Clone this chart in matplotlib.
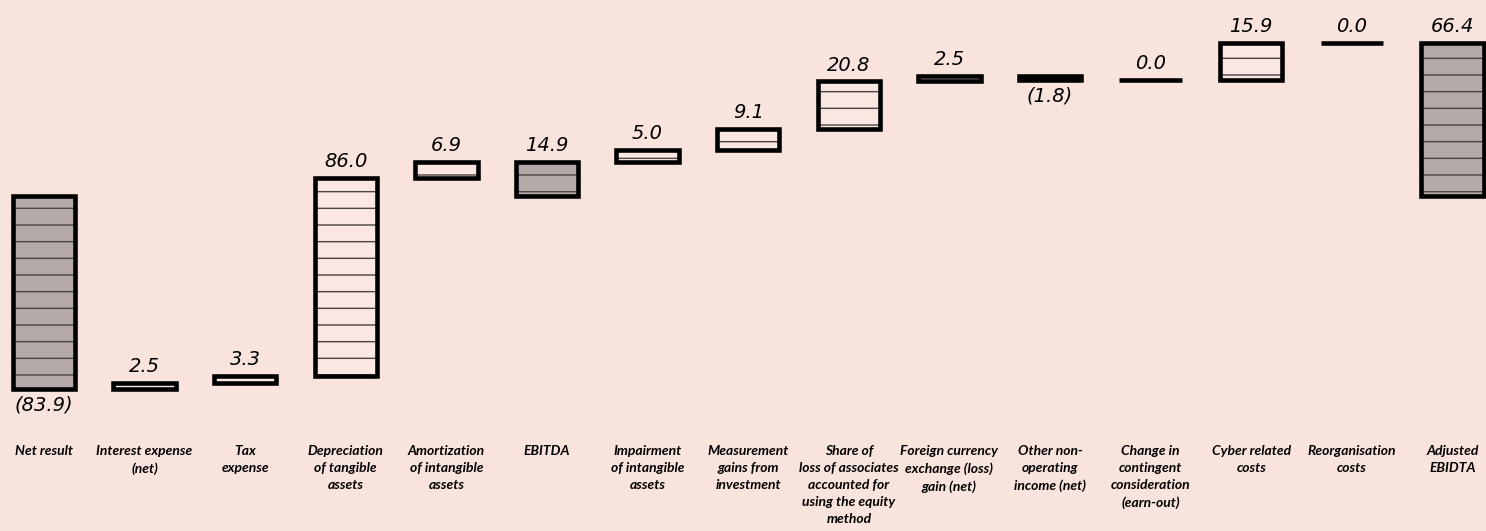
import matplotlib
matplotlib.use("Agg")
import matplotlib.pyplot as plt
import matplotlib.transforms as mtransforms

# bridge from net result to adjusted EBITDA (EUR m)
categories = [
    "Net result", "Interest expense\n(net)", "Tax\nexpense",
    "Depreciation\nof tangible\nassets", "Amortization\nof intangible\nassets",
    "EBITDA", "Impairment\nof intangible\nassets", "Measurement\ngains from\ninvestment",
    "Share of\nloss of associates\naccounted for\nusing the equity\nmethod",
    "Foreign currency\nexchange (loss)\ngain (net)", "Other non-\noperating\nincome (net)",
    "Change in\ncontingent\nconsideration\n(earn-out)", "Cyber related\ncosts",
    "Reorganisation\ncosts", "Adjusted\nEBIDTA",
]
values = [-83.9, 2.5, 3.3, 86.0, 6.9, 14.9, 5.0, 9.1, 20.8, 2.5, -1.8, 0.0, 15.9, 0.0, 66.4]
is_total = [True, False, False, False, False, True, False, False, False, False, False, False, False, False, True]

BG = "#f9e4dd"
TOTAL_FILL = "#b5aaa7"
STEP_FILL = "#fbe7e2"
HATCH_COL = "#4a4444"

plt.rcParams["hatch.linewidth"] = 1.0

fig = plt.figure(figsize=(14.86, 5.31), dpi=100, facecolor=BG)
ax = fig.add_axes([0, 0, 1, 1])
ax.set_facecolor(BG)

# running total for the floating steps
bottoms, heights = [], []
running = 0.0
for v, tot in zip(values, is_total):
    if tot:
        bottoms.append(0.0)
        heights.append(v)
        running = v
    else:
        bottoms.append(running)
        heights.append(v)
        running += v

x = list(range(len(values)))
width = 0.62

for xi, b, h, v, tot in zip(x, bottoms, heights, values, is_total):
    if v < 0 and not tot:
        face, hatch = "black", None
    elif tot:
        face, hatch = TOTAL_FILL, "-"
    else:
        face, hatch = STEP_FILL, "-"
    # fill + hatch lines, then the heavy outline on top
    ax.bar(xi, h, bottom=b, width=width, color=face, edgecolor=HATCH_COL,
           linewidth=0, hatch=hatch, zorder=2)
    ax.bar(xi, h, bottom=b, width=width, fill=False, edgecolor="black",
           linewidth=3.3, zorder=3)

    top = max(b, b + h)
    low = min(b, b + h)
    label = f"({abs(v):.1f})" if v < 0 else f"{v:.1f}"
    if v < 0:
        ax.annotate(label, (xi, low), xytext=(0, -5), textcoords="offset points",
                    ha="center", va="top", fontsize=14, style="italic",
                    family="DejaVu Sans")
    else:
        ax.annotate(label, (xi, top), xytext=(0, 5), textcoords="offset points",
                    ha="center", va="bottom", fontsize=14, style="italic",
                    family="DejaVu Sans")

# category names under the chart
trans = mtransforms.blended_transform_factory(ax.transData, ax.transAxes)
for xi, name in zip(x, categories):
    ax.text(xi, 1 - 445 / 531, name, transform=trans, ha="center", va="top",
            fontsize=10, fontweight="bold", style="italic", family="Lato",
            linespacing=1.5)

# 0 sits ~196 px from the top, ~2.3 px per unit
scale = 2.3
ax.set_ylim(-(531 - 196) / scale, 196 / scale)
ax.set_xlim(-44 / 100.6, -44 / 100.6 + 1486 / 100.6)
ax.axis("off")

fig.savefig("out.png", dpi=100, facecolor=BG)
